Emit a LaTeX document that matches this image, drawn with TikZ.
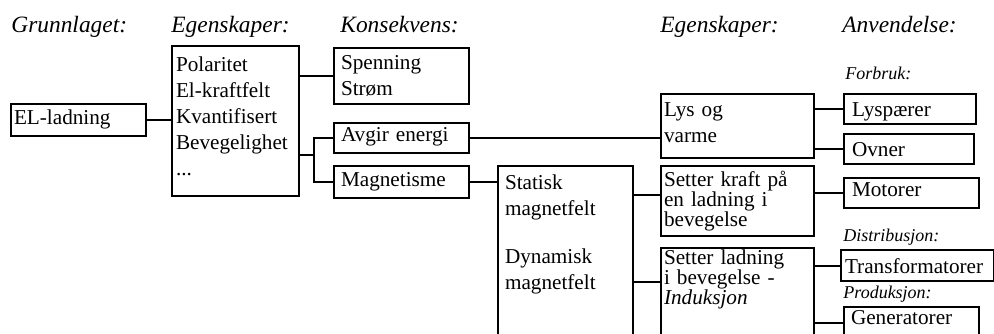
\documentclass[tikz,border=0pt]{standalone}
\usepackage{fontspec}
\setmainfont{Liberation Serif}
\usepackage{tikz}
\tikzset{
    box/.style={rectangle,draw=black,line width=1pt,anchor=north west,inner ysep=0pt,align=left,font=\fontsize{10.6}{13}\selectfont},
    tight/.style={font=\fontsize{10.6}{10}\selectfont},
    heading/.style={anchor=base west,inner sep=0pt,font=\fontsize{11.7}{14}\selectfont\itshape},
    sublabel/.style={anchor=base west,inner sep=0pt,font=\fontsize{9}{11}\selectfont\itshape},
    link/.style={line width=1pt},
}
\hyphenpenalty=10000

\begin{document}
\begin{tikzpicture}[x=0.5pt,y=-0.5pt]
\useasboundingbox (0,0) rectangle (994,333);
\clip (0,0) rectangle (994,333);
% column headings
\node[heading] (h1) at (11,32) {Grunnlaget:};
\node[heading] (h2) at (171,32) {Egenskaper:};
\node[heading] (h3) at (340,32) {Konsekvens:};
\node[heading] (h4) at (660,32) {Egenskaper:};
\node[heading] (h5) at (842,32) {Anvendelse:};
% boxes
\node[box,text width=64.5pt,inner xsep=1.5pt,text height=10pt,text depth=6pt] (ladning) at (10,103) {EL-ladning};
\node[box,text width=59.5pt,inner xsep=2pt,text height=12.5pt,text depth=62.5pt] (egenskaper) at (171,45) {Polaritet\\El-kraftfelt\\Kvantifisert\\Bevegelighet\\...};
\node[box,text width=60.5pt,inner xsep=3.5pt,text height=10.5pt,text depth=17.5pt] (spenning) at (333,47) {Spenning\\Strøm};
\node[box,text width=60.5pt,inner xsep=3.5pt,text height=9pt,text depth=6pt] (avgir) at (333,122) {Avgir energi};
\node[box,text width=60.5pt,inner xsep=3.5pt,text height=10pt,text depth=6pt] (magnetisme) at (333,165) {Magnetisme};
\node[box,text width=60.5pt,inner xsep=3.5pt,text height=11.5pt,text depth=78.5pt] (magnetfelt) at (497,165) {Statisk\\magnetfelt\\[11pt]Dynamisk\\magnetfelt};
\node[box,text width=73.5pt,inner xsep=1.5pt,text height=11pt,text depth=21pt] (lys) at (660,93) {Lys og\\varme};
\node[box,tight,text width=73.5pt,inner xsep=1.5pt,text height=10pt,text depth=25pt] (kraft) at (660,165) {Setter kraft på\\en ladning i\\bevegelse};
\node[box,tight,text width=73.5pt,inner xsep=1.5pt,text height=8pt,text depth=41pt] (induksjon) at (660,247) {Setter ladning\\i bevegelse -\\\textit{Induksjon}};
% applications
\node[sublabel] (forbruk) at (845,79) {Forbruk:};
\node[box,text width=58pt,inner xsep=4pt,text height=11pt,text depth=4pt] (lyspaerer) at (843,93) {Lyspærer};
\node[box,text width=57pt,inner xsep=4pt,text height=11pt,text depth=4pt] (ovner) at (843,133) {Ovner};
\node[box,text width=59.5pt,inner xsep=4pt,text height=9pt,text depth=6pt] (motorer) at (843,177) {Motorer};
\node[sublabel] (distribusjon) at (843,241) {Distribusjon:};
\node[box,text width=72.5pt,inner xsep=2pt,text height=11.5pt,text depth=4pt] (trafo) at (840,249) {Transformatorer};
\node[sublabel] (produksjon) at (843,298) {Produksjon:};
\node[box,text width=60.5pt,inner xsep=3.5pt,text height=8.5pt,text depth=11pt] (generator) at (843,306) {Generatorer};
% connectors
\coordinate (brk) at (314,155);
\coordinate (stat) at (660,195);
\coordinate (dyn) at (660,282);
\coordinate (gen) at (843,323);
\draw[link] (ladning.east) -- (ladning.east -| egenskaper.west);
\draw[link] (spenning.west) -- (spenning.west -| egenskaper.east);
\draw[link] (brk -| egenskaper.east) -- (brk);
\draw[link] (avgir.west) -| (brk) |- (magnetisme.west);
\draw[link] (avgir.east) -- (avgir.east -| lys.west);
\draw[link] (magnetisme.east) -- (magnetisme.east -| magnetfelt.west);
\draw[link] (stat) -- (stat -| magnetfelt.east);
\draw[link] (dyn) -- (dyn -| magnetfelt.east);
\draw[link] (lyspaerer.west) -- (lyspaerer.west -| lys.east);
\draw[link] (ovner.west) -- (ovner.west -| lys.east);
\draw[link] (motorer.west) -- (motorer.west -| kraft.east);
\draw[link] (trafo.west) -- (trafo.west -| induksjon.east);
\draw[link] (gen) -- (gen -| induksjon.east);
\end{tikzpicture}
\end{document}
